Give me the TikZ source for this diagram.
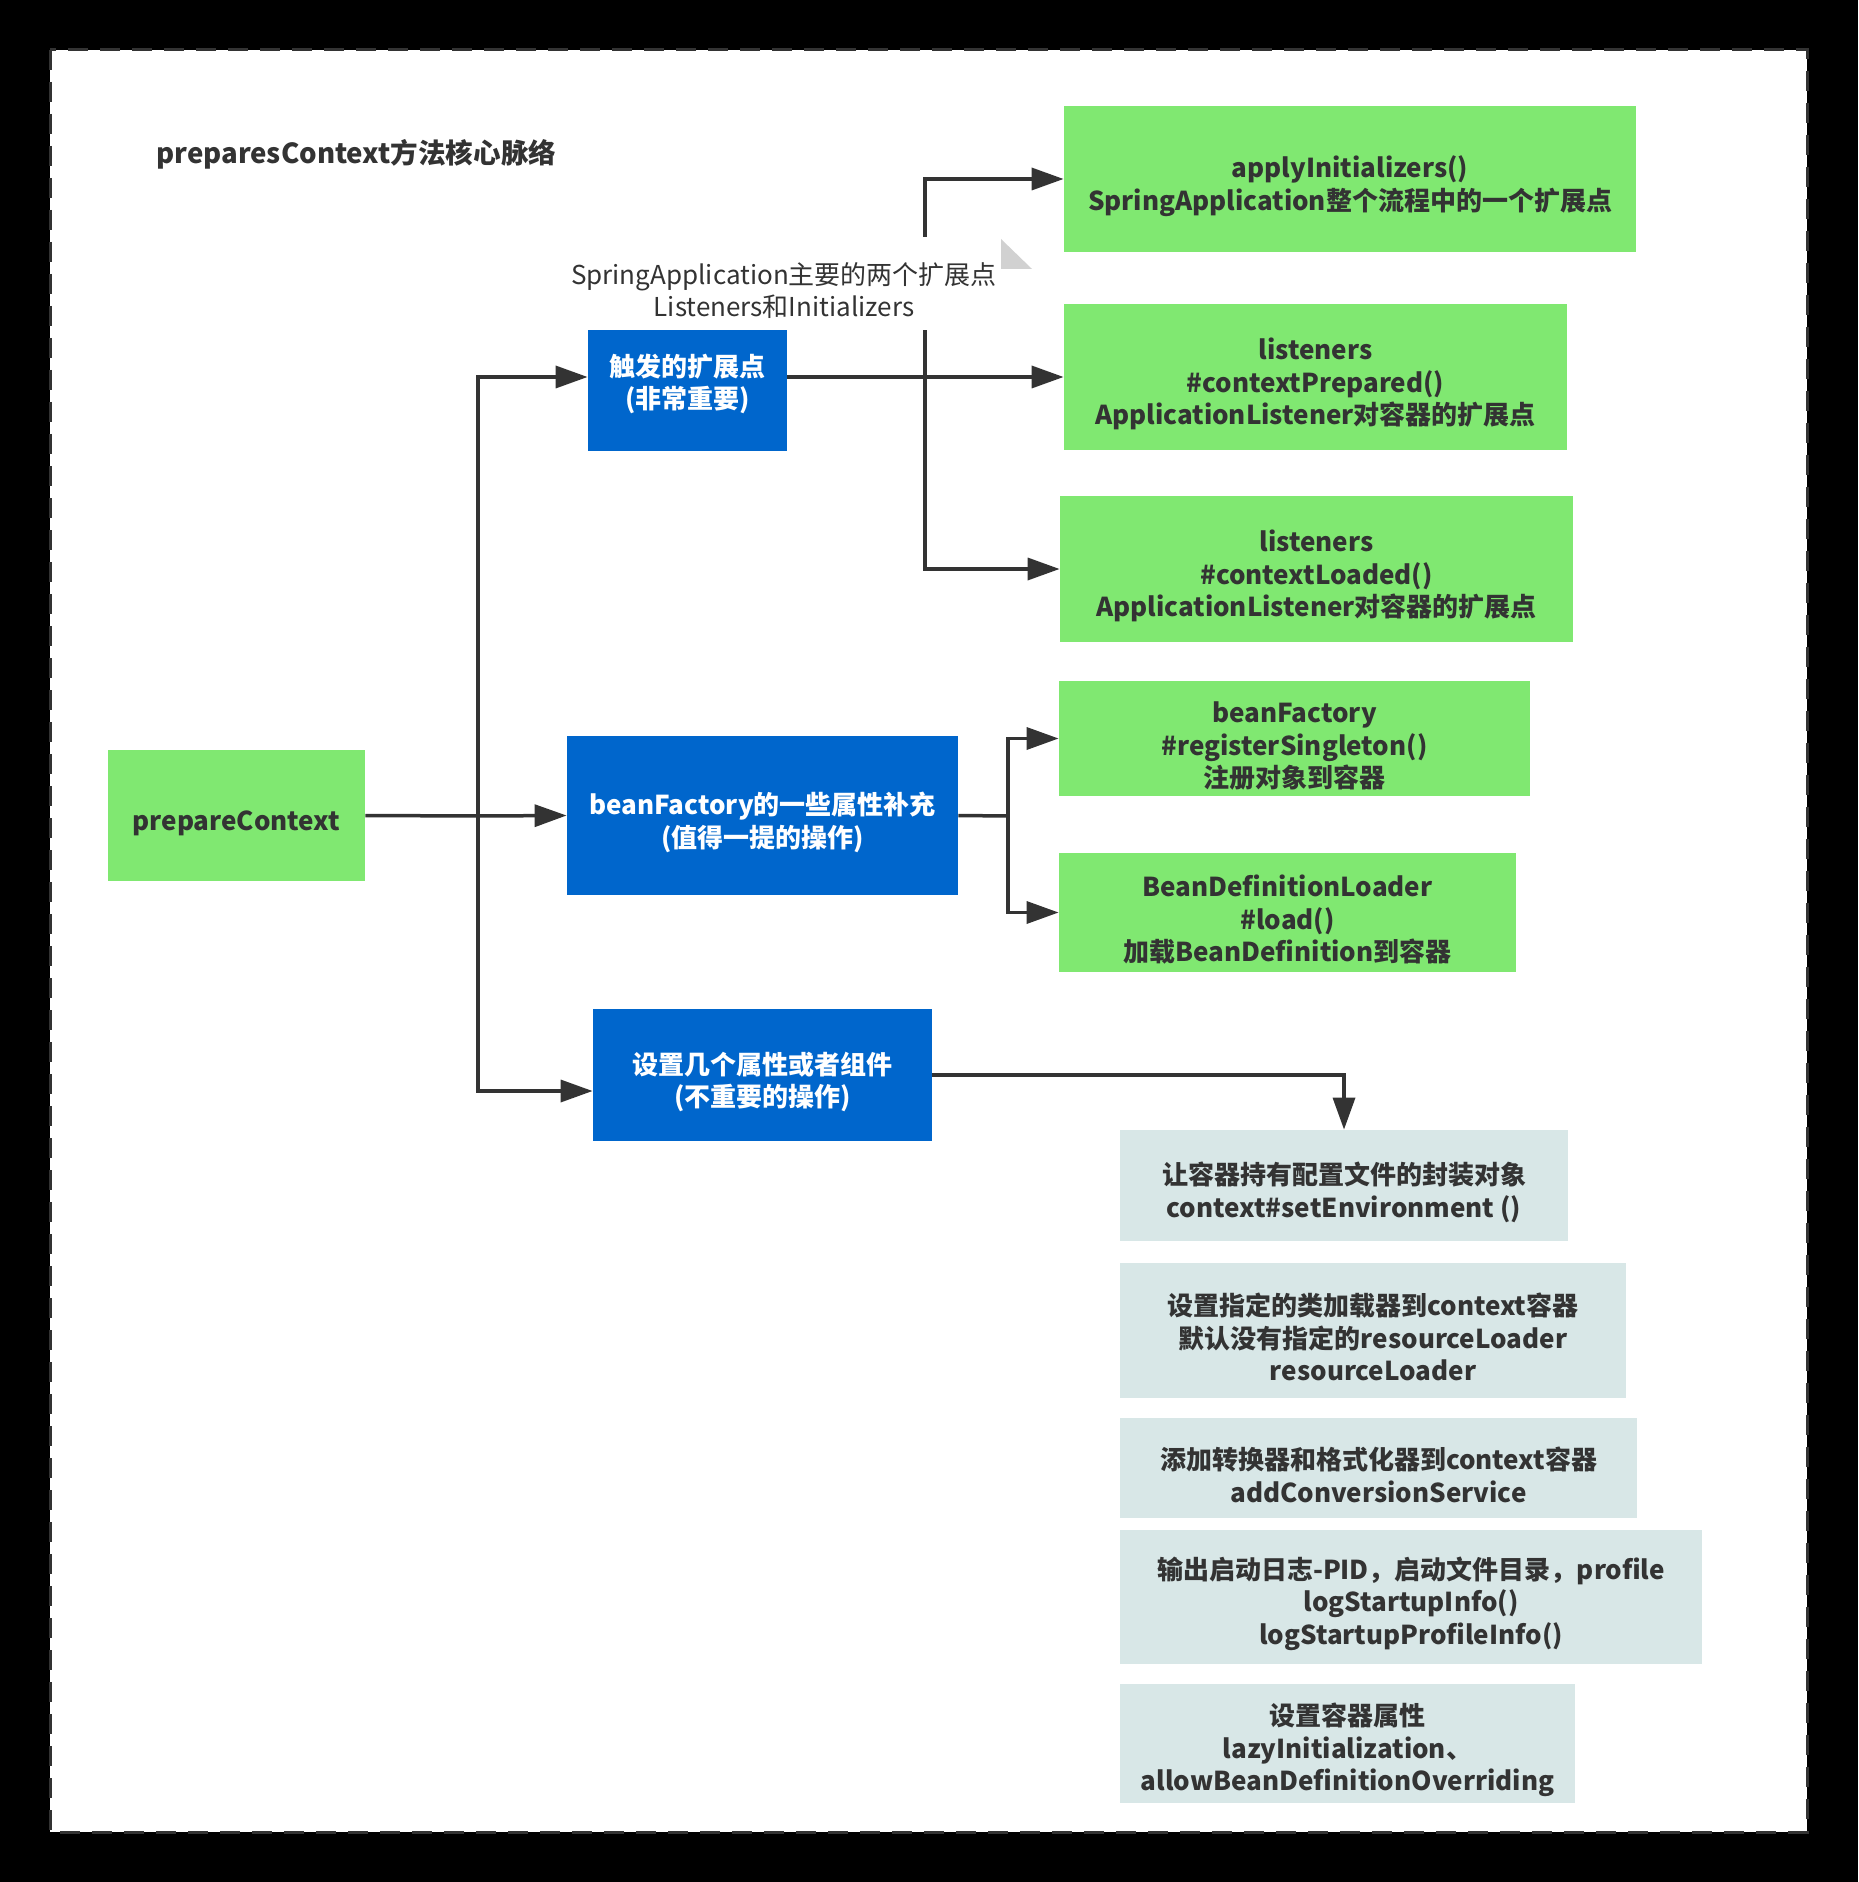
\documentclass[tikz,border=0pt]{standalone}
\usepackage{fontspec}
\usepackage{xcolor}
\usepackage{tikz}
\usetikzlibrary{arrows.meta}
\setmainfont{Noto Sans CJK SC}

\definecolor{stepgreen}{HTML}{80E871}
\definecolor{stepblue}{HTML}{0066CC}
\definecolor{stepgray}{HTML}{D8E7E7}
\definecolor{ink}{HTML}{333333}

% pushes the first line down a little, so the lines sit like in the drawing
\newcommand{\boxlift}{\rule{0pt}{18pt}}
% the other way round: deeper last line, text goes up
\newcommand{\boxsink}{\rule[-9pt]{0pt}{9pt}}

\tikzset{
  boxtext/.style={inner sep=0pt, align=center, font=\fontsize{13pt}{16.25pt}\selectfont\bfseries},
  hookbox/.style={boxtext, fill=stepgreen, text=ink},
  phasebox/.style={boxtext, fill=stepblue, text=white},
  setbox/.style={boxtext, fill=stepgray, text=ink},
  link/.style={draw=ink, line width=1.75pt, -{Triangle[length=16pt,width=11pt]}},
  wire/.style={draw=ink, line width=1.75pt},
}

\begin{document}
\begin{tikzpicture}[x=0.5pt, y=-0.5pt]
% frame
\fill[black] (0,0) rectangle (1858,1882);
\useasboundingbox (0,0) rectangle (1858,1882);
\draw[ink, fill=white, line width=1.5pt, dash pattern=on 10pt off 6pt] (50,50) rectangle (1807,1832);

\node[anchor=west, inner sep=0pt, text=ink, font=\fontsize{13.8pt}{16pt}\selectfont\bfseries] (title) at (156,154) {preparesContext方法核心脉络};

% main steps
\node[hookbox, minimum width=128.5pt, minimum height=65.5pt] (prep) at (236.5,815.5) {\boxlift prepareContext};
\node[phasebox, minimum width=99.5pt, minimum height=60.5pt] (trigger) at (687.5,390.5) {触发的扩展点\\(非常重要)\boxsink};
\node[phasebox, minimum width=195.5pt, minimum height=79.5pt] (factory) at (762.5,815.5) {\boxlift beanFactory的一些属性补充\\(值得一提的操作)};
\node[phasebox, minimum width=169.5pt, minimum height=66pt] (props) at (762.5,1075) {\boxlift 设置几个属性或者组件\\(不重要的操作)};

% extension points
\node[hookbox, minimum width=286pt, minimum height=73pt] (init) at (1350,179) {\boxlift applyInitializers()\\SpringApplication整个流程中的一个扩展点};
\node[hookbox, minimum width=251.5pt, minimum height=73pt] (prepared) at (1315.5,377) {\boxlift listeners\\\#contextPrepared()\\ApplicationListener对容器的扩展点};
\node[hookbox, minimum width=256.5pt, minimum height=73pt] (loaded) at (1316.5,569) {\boxlift listeners\\\#contextLoaded()\\ApplicationListener对容器的扩展点};
\node[hookbox, minimum width=235.5pt, minimum height=57.5pt] (singleton) at (1294.5,738.5) {\boxlift beanFactory\\\#registerSingleton()\\注册对象到容器};
\node[hookbox, minimum width=228.5pt, minimum height=59.5pt] (loader) at (1287.5,912.5) {\boxlift BeanDefinitionLoader\\\#load()\\加载BeanDefinition到容器};

% settings
\node[setbox, minimum width=224pt, minimum height=55.5pt] (env) at (1344,1185.5) {\boxlift 让容器持有配置文件的封装对象\\context\#setEnvironment ()};
\node[setbox, minimum width=253pt, minimum height=67.5pt] (res) at (1373,1330.5) {\boxlift 设置指定的类加载器到context容器\\默认没有指定的resourceLoader\\resourceLoader};
\node[setbox, minimum width=258.5pt, minimum height=50pt] (conv) at (1378.5,1468) {\boxlift 添加转换器和格式化器到context容器\\addConversionService};
\node[setbox, minimum width=291pt, minimum height=67pt] (log) at (1411,1597) {\boxlift 输出启动日志-PID，启动文件目录，profile\\logStartupInfo()\\logStartupProfileInfo()};
\node[setbox, minimum width=227.5pt, minimum height=59.5pt] (lazy) at (1347.5,1743.5) {\boxlift 设置容器属性\\lazyInitialization、\\allowBeanDefinitionOverriding};

\node[text=ink, align=center, inner sep=0pt, minimum height=46.5pt, font=\fontsize{13pt}{16.25pt}\selectfont] (note) at (784,283.5) {\boxlift SpringApplication主要的两个扩展点\\Listeners和Initializers};
\fill[black!18] (1001,239) -- (1001,269) -- (1032,269) -- cycle;

\coordinate (jP) at (478,816);
\coordinate (jB) at (925,377);
\coordinate (jD) at (1008,816);

% connectors
\draw[wire] (prep.east) -- (jP);
\draw[link] (jP) |- ([yshift=6.75pt]trigger.west);
\draw[link] (jP) -- (factory.west);
\draw[link] (jP) |- ([yshift=-8pt]props.west);

\draw[link] ([yshift=6.75pt]trigger.east) -- (prepared.west);
\draw[wire] (jB) -- (jB |- note.south);
\draw[link] (jB |- note.north) |- (init.west);
\draw[link] (jB) |- (loaded.west);

\draw[wire] (factory.east) -- (jD);
\draw[link] (jD) |- (singleton.west);
\draw[link] (jD) |- (loader.west);

\draw[link] (props.east) -| (env.north);
\end{tikzpicture}
\end{document}
